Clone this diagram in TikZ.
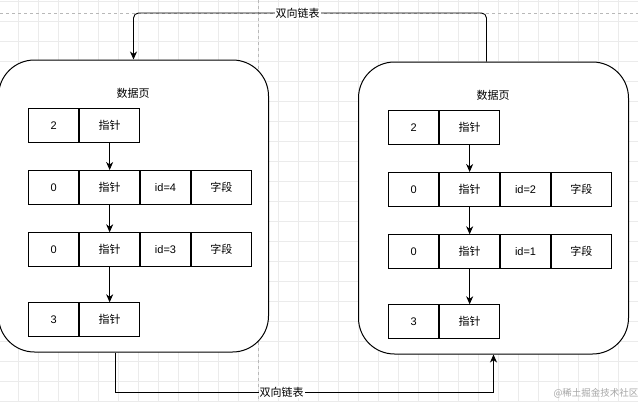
\documentclass[tikz,border=0pt]{standalone}
\usepackage{fontspec}
\setmainfont{Liberation Sans}
\newfontfamily\cjk{Noto Sans CJK SC}
\usetikzlibrary{arrows.meta,calc}
\definecolor{gridc}{HTML}{EBEBEB}
\definecolor{pagec}{HTML}{B8B8B8}
\newcommand\mypage[5]{%
\begin{scope}[shift={(#2,#3)}]
 \node[pagebox] (#1) at (133.5,206) {};
 \node[titletext] (#1t) at (133,93) {\cjk 数据页};
 \node[cellA] (#1r1a) at (28.3,108) {2};
 \node[cellB] (#1r1b) at (#1r1a.north east) {\cjk 指针};
 \node[cellA] (#1r2a) at (28.3,170) {0};
 \node[cellB] (#1r2b) at (#1r2a.north east) {\cjk 指针};
 \node[cellA] (#1r2c) at (#1r2b.north east) {id=#4};
 \node[cellB] (#1r2d) at (#1r2c.north east) {\cjk 字段};
 \node[cellA] (#1r3a) at (28.3,232.3) {0};
 \node[cellB] (#1r3b) at (#1r3a.north east) {\cjk 指针};
 \node[cellA] (#1r3c) at (#1r3b.north east) {id=#5};
 \node[cellB] (#1r3d) at (#1r3c.north east) {\cjk 字段};
 \node[cellA] (#1r4a) at (28.3,302.3) {3};
 \node[cellB] (#1r4b) at (#1r4a.north east) {\cjk 指针};
 \draw[arr] (#1r1b) -- (#1r2b);
 \draw[arr] (#1r2b) -- (#1r3b);
 \draw[arr] (#1r3b) -- (#1r4b);
\end{scope}}
\begin{document}
\begin{tikzpicture}[x=1pt,y=-1pt,
  pagebox/.style={draw=black, line width=1pt, fill=white, rounded corners=36pt,
    minimum width=270pt, minimum height=292pt, inner sep=0pt},
  titletext/.style={font=\fontsize{11}{13}\selectfont, inner sep=1pt},
  cellbase/.style={draw=black, line width=0.9pt, minimum height=34pt, inner sep=0pt,
    anchor=north west, font=\fontsize{11}{13}\selectfont},
  cellA/.style={cellbase, minimum width=50pt},
  cellB/.style={cellbase, minimum width=60pt},
  arr/.style={draw=black, line width=0.9pt, -{Stealth[length=8pt,width=7pt,inset=2.5pt]}},
  conn/.style={draw=black, line width=0.9pt, -{Stealth[length=8pt,width=7pt,inset=2.5pt]}},
  lbl/.style={fill=white, inner sep=1pt, font=\cjk\fontsize{11}{13}\selectfont},
  wm/.style={text=black!35, inner sep=0pt, font=\cjk\fontsize{9.5}{11}\selectfont}]
\useasboundingbox (0,0) rectangle (638,402);
\fill[white] (0,0) rectangle (638,402);
\foreach \x in {18,38,...,638} \draw[gridc, line width=0.6pt] (\x,0) -- (\x,402);
\foreach \y in {1.7,21.7,...,402} \draw[gridc, line width=0.6pt] (0,\y) -- (638,\y);
\draw[pagec, line width=0.6pt, dash pattern=on 3pt off 3pt] (258,0) -- (258,402);
\draw[pagec, line width=0.6pt, dash pattern=on 3pt off 3pt] (0,13) -- (638,13);
\mypage{L}{0}{0}{4}{3}
\mypage{R}{360}{2}{2}{1}
\coordinate (tA) at (486.5,13);
\coordinate (tB) at (133.5,13);
\draw[conn, rounded corners=5pt] ([xshift=-7pt]R.north) -- (tA) -- (tB) -- (L.north);
\path (tA) -- (tB) node[lbl, pos=0.535] (lt) {双向链表};
\coordinate (bA) at (115.7,392);
\coordinate (bB) at (493.5,392);
\draw[conn] ([xshift=-17.8pt]L.south) -- (bA) -- (bB) -- (R.south);
\path (bA) -- (bB) node[lbl, pos=0.439] (lb) {双向链表};
\node[wm] (w) at (596,393) {@稀土掘金技术社区};
\end{tikzpicture}
\end{document}
